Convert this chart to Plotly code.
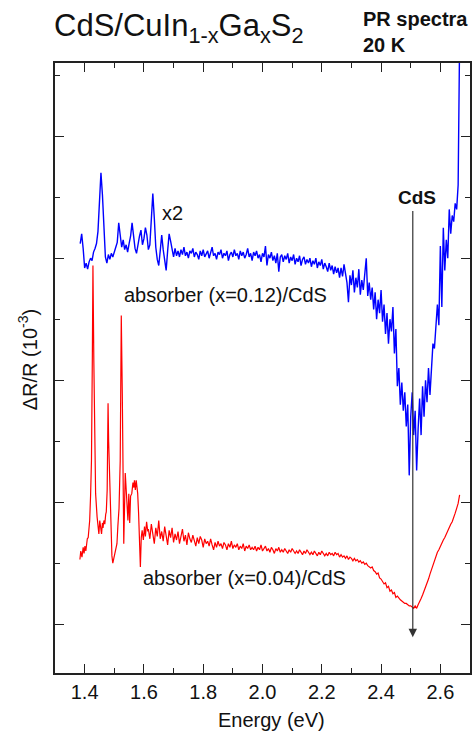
import numpy as np
import plotly.graph_objects as go

# ---------------- data ----------------
# Blue: absorber (x=0.12)/CdS, shown x2, sampled every 0.005 eV from 1.385 eV
blue_E0 = 1.385
blue_step = 0.005
blue_y = [
    3.12, 3.20, 3.08, 2.92, 2.96, 2.91, 2.97, 3.00, 2.98, 3.05,
    3.08, 3.12, 3.22, 3.42, 3.70, 3.52, 3.22, 3.01, 2.96, 3.03,
    2.99, 3.04, 3.01, 3.06, 3.09, 3.13, 3.29, 3.19, 3.09, 3.15,
    3.07, 3.11, 3.05, 3.12, 3.18, 3.29, 3.17, 3.08, 3.04, 3.13,
    3.18, 3.23, 3.11, 3.16, 3.25, 3.19, 3.07, 3.11, 3.36, 3.53,
    3.33, 3.09, 2.99, 2.94, 3.06, 3.19, 3.07, 2.97, 2.90, 3.06,
    3.20, 3.14, 3.06, 3.01, 3.08, 3.02,
    # 1.715 - 2.260
    3.06, 3.01, 3.07, 3.03, 3.09, 3.02, 3.05, 3.00, 3.06, 3.04,
    3.08, 3.01, 3.05, 3.03, 2.99, 3.06, 3.02, 3.07, 3.01, 3.04,
    3.06, 3.00, 3.05, 3.09, 3.02, 3.04, 2.99, 3.05, 3.03, 3.07,
    3.00, 3.04, 3.02, 3.06, 2.98, 3.03, 3.05, 3.01, 3.07, 3.02,
    3.04, 2.99, 3.06, 3.02, 3.05, 3.00, 3.03, 3.08, 3.01, 3.04,
    2.98, 3.05, 3.02, 3.06, 3.00, 3.03, 2.97, 3.04, 3.01, 3.10,
    2.94, 3.03, 3.00, 3.05, 2.98, 3.02, 2.96, 3.04, 2.89, 3.01,
    3.03, 2.97, 3.02, 2.99, 3.04, 2.96, 3.01, 2.98, 3.03, 2.95,
    3.00, 2.97, 3.02, 2.94, 2.99, 3.01, 2.95, 2.99, 2.96, 3.00,
    2.93, 2.98, 2.95, 3.00, 2.92, 2.97, 2.94, 2.99, 2.91, 2.96,
    2.93, 2.89, 2.96, 2.90, 2.94, 2.87, 2.93, 2.88, 2.92, 2.84,
    # 2.265 - 2.670
    2.92, 2.85, 2.95, 2.88, 2.80, 2.64, 2.86, 2.78, 2.90, 2.72,
    2.84, 2.76, 2.91, 2.70, 2.82, 2.74, 2.88, 3.00, 2.69, 2.80,
    2.66, 2.76, 2.58, 2.72, 2.50, 2.66, 2.55, 2.74, 2.48, 2.62,
    2.38, 2.55, 2.30, 2.50, 2.40, 2.60, 2.22, 2.42, 1.95, 2.10,
    1.80, 1.98, 1.75, 1.90, 1.62, 1.80, 1.22, 1.70, 1.90, 1.55,
    1.75, 1.26, 1.60, 1.85, 1.55, 1.95, 1.70, 2.00, 1.82, 2.10,
    1.88, 2.14, 2.30, 2.26, 2.45, 2.62, 2.45, 3.10, 2.60, 3.25,
    2.90, 3.15, 3.00, 3.40, 3.20, 3.35, 3.30, 3.45, 3.40, 3.60,
    4.80, 5.20,
]

# Red: absorber (x=0.04)/CdS — peak region (irregular samples)
red_peak_E = [
    1.384, 1.387, 1.391, 1.395, 1.398, 1.401, 1.404, 1.406, 1.409, 1.412,
    1.415, 1.417, 1.420, 1.423, 1.426, 1.428, 1.431, 1.433, 1.437, 1.442,
    1.445, 1.448, 1.451, 1.454, 1.457, 1.460, 1.462, 1.465, 1.468, 1.471,
    1.473, 1.476, 1.479, 1.481, 1.484, 1.488, 1.492, 1.495, 1.498, 1.501,
    1.505, 1.509, 1.512, 1.516, 1.520, 1.5236, 1.527, 1.530, 1.532, 1.537,
    1.541, 1.546, 1.549, 1.552, 1.555, 1.559, 1.563, 1.566, 1.568, 1.571,
    1.574, 1.577, 1.579, 1.582, 1.585, 1.588, 1.591, 1.594, 1.598, 1.602,
    1.605, 1.609, 1.613,
]
red_peak_y = [
    0.53, 0.60, 0.55, 0.63, 0.58, 0.64, 0.60, 0.66, 0.70, 0.71,
    0.78, 0.85, 1.05, 1.34, 2.20, 2.94, 2.16, 1.60, 1.07, 0.88,
    0.80, 0.74, 0.85, 0.76, 0.74, 0.83, 0.79, 0.85, 0.82, 0.90,
    0.92, 1.10, 1.81, 1.50, 1.20, 0.74, 0.56, 0.50, 0.53, 0.58,
    0.62, 0.66, 0.80, 0.95, 1.34, 2.53, 1.89, 1.01, 0.66, 1.24,
    1.07, 0.85, 1.07, 0.83, 1.05, 1.07, 1.16, 1.12, 1.18, 1.10,
    1.18, 1.12, 1.07, 0.91, 0.62, 0.47, 0.71, 0.77, 0.69, 0.80,
    0.72, 0.84, 0.76,
]
# Red tail, sampled every 0.005 eV from 1.615 eV
red_tail_E0 = 1.615
red_tail_y = [
    0.78, 0.70, 0.82, 0.74, 0.66, 0.79, 0.72, 0.85, 0.70, 0.76,
    0.68, 0.80, 0.73, 0.65, 0.77, 0.71, 0.79, 0.67, 0.74, 0.69,
    0.76, 0.66, 0.72, 0.78, 0.68, 0.73, 0.65, 0.75, 0.70, 0.67,
    0.73, 0.68, 0.64, 0.71, 0.66, 0.72, 0.69, 0.63, 0.70, 0.66,
    0.68, 0.64, 0.70, 0.65, 0.61, 0.67, 0.63, 0.68, 0.64, 0.66,
    0.62, 0.67, 0.65, 0.61, 0.66, 0.63, 0.68, 0.62, 0.65, 0.63,
    0.66, 0.61, 0.64, 0.62, 0.66, 0.60, 0.64, 0.62, 0.65, 0.61,
    0.63, 0.61, 0.64, 0.60, 0.63, 0.61, 0.65, 0.60, 0.62, 0.64,
    0.60, 0.62, 0.59, 0.63, 0.61, 0.58, 0.62, 0.60, 0.63, 0.59,
    0.61, 0.59, 0.62, 0.60, 0.58, 0.61, 0.59, 0.62, 0.60, 0.58,
    0.60, 0.58, 0.61, 0.59, 0.57, 0.60, 0.58, 0.61, 0.59, 0.57,
    0.59, 0.57, 0.60, 0.58, 0.56, 0.59, 0.57, 0.60, 0.58, 0.56,
    0.58, 0.56, 0.59, 0.57, 0.58, 0.56, 0.59, 0.57, 0.58, 0.55,
    0.57, 0.55, 0.56, 0.54, 0.56, 0.53, 0.55, 0.54, 0.52, 0.54,
    0.52, 0.53, 0.51, 0.52, 0.50, 0.51, 0.49, 0.50, 0.48, 0.47,
    0.46, 0.47, 0.44, 0.43, 0.41, 0.42, 0.38, 0.37, 0.35, 0.33,
    0.34, 0.30, 0.31, 0.27, 0.28, 0.25, 0.26, 0.22, 0.23, 0.21,
    0.20, 0.19, 0.18, 0.17, 0.17, 0.16, 0.15, 0.15, 0.14, 0.13,
    0.15, 0.13, 0.16, 0.18, 0.21, 0.24, 0.27, 0.31, 0.34, 0.37,
    0.41, 0.45, 0.49, 0.52, 0.56, 0.59, 0.61, 0.64, 0.66, 0.69,
    0.71, 0.74, 0.76, 0.79, 0.82, 0.84, 0.87, 0.91, 0.95, 0.99,
    1.06,
]

x_tick_vals = [1.4, 1.6, 1.8, 2.0, 2.2, 2.4, 2.6]
x_tick_text = ["1.4", "1.6", "1.8", "2.0", "2.2", "2.4", "2.6"]

cds_energy = 2.507
cds_arrow_top = 3.40
cds_arrow_tip = -0.107

# ---------------- figure ----------------
blue_E = np.round(blue_E0 + blue_step * np.arange(len(blue_y)), 4)
red_tail_E = np.round(red_tail_E0 + 0.005 * np.arange(len(red_tail_y)), 4)
red_E = list(red_peak_E) + list(red_tail_E)
red_y = list(red_peak_y) + list(red_tail_y)

FONT = "Liberation Sans, Arial, sans-serif"
INK = "#111111"
AX = "#222222"

fig = go.Figure()
fig.add_trace(go.Scatter(x=red_E, y=red_y, mode="lines",
                         line=dict(color="#ff0000", width=1.2), hoverinfo="skip"))
fig.add_trace(go.Scatter(x=blue_E, y=blue_y, mode="lines",
                         line=dict(color="#0000ff", width=1.4), hoverinfo="skip"))

axis_common = dict(showgrid=False, zeroline=False, showline=True, linecolor=AX,
                   linewidth=1.5, mirror="ticks", ticks="inside", ticklen=9,
                   tickwidth=1.3, tickcolor=AX)

fig.update_xaxes(range=[1.3, 2.7], tickvals=x_tick_vals, ticktext=x_tick_text,
                 tickfont=dict(family=FONT, size=20, color=INK),
                 minor=dict(ticks="inside", ticklen=5, tickwidth=1.3, tickcolor=AX,
                            tick0=1.3, dtick=0.1, showgrid=False),
                 **axis_common)
fig.update_yaxes(range=[-0.4, 4.6], tick0=0, dtick=1, showticklabels=False,
                 minor=dict(ticks="inside", ticklen=5, tickwidth=1.3, tickcolor=AX,
                            tick0=0, dtick=0.5, showgrid=False),
                 **axis_common)

ann = []
# arrow marking CdS
ann.append(dict(x=cds_energy, y=cds_arrow_tip, ax=cds_energy, ay=cds_arrow_top,
                xref="x", yref="y", axref="x", ayref="y", text="", showarrow=True,
                arrowhead=2, arrowsize=1.4, arrowwidth=1.2, arrowcolor="#333333",
                standoff=0, startstandoff=0))
ann.append(dict(x=2.520, y=3.50, xref="x", yref="y", text="<b>CdS</b>", showarrow=False,
                font=dict(family=FONT, size=19, color=INK), xanchor="center", yanchor="middle"))
ann.append(dict(x=1.6956, y=3.37, xref="x", yref="y", text="x2", showarrow=False,
                font=dict(family=FONT, size=20, color=INK), xanchor="center", yanchor="middle"))
ann.append(dict(x=1.5246, y=2.70, xref="x", yref="y", text="absorber (x=0.12)/CdS",
                showarrow=False, font=dict(family=FONT, size=20, color=INK),
                xanchor="left", yanchor="middle"))
ann.append(dict(x=1.5917, y=0.377, xref="x", yref="y", text="absorber (x=0.04)/CdS",
                showarrow=False, font=dict(family=FONT, size=20, color=INK),
                xanchor="left", yanchor="middle"))
# title and header
ann.append(dict(x=-0.008, y=1.094, xref="paper", yref="paper",
                text="CdS/CuIn<sub>1-x</sub>Ga<sub>x</sub>S<sub>2</sub>",
                showarrow=False, font=dict(family=FONT, size=31, color=INK),
                xanchor="left", yanchor="top"))
ann.append(dict(x=0.738, y=1.094, xref="paper", yref="paper",
                text="<b>PR spectra</b><br><b>20 K</b>", align="left",
                showarrow=False, font=dict(family=FONT, size=20, color=INK),
                xanchor="left", yanchor="top"))
# axis titles
ann.append(dict(x=0.522, y=-0.077, xref="paper", yref="paper", text="Energy (eV)",
                showarrow=False, font=dict(family=FONT, size=20, color=INK),
                xanchor="center", yanchor="middle"))
ann.append(dict(x=-0.067, y=0.513, xref="paper", yref="paper",
                text="ΔR/R (10<sup>-3</sup>)", textangle=-90,
                showarrow=False, font=dict(family=FONT, size=20, color=INK),
                xanchor="center", yanchor="middle"))

fig.update_layout(width=473, height=740, autosize=False,
                  margin=dict(l=55, r=1, t=63, b=67),
                  paper_bgcolor="white", plot_bgcolor="white",
                  showlegend=False, annotations=ann)

fig.write_html("out.html")
